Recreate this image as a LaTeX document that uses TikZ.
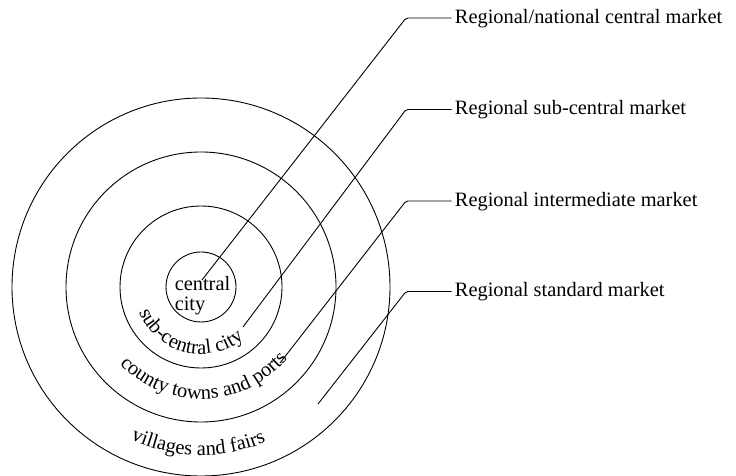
\documentclass[tikz,border=0pt]{standalone}
\usepackage{fontspec}
\setmainfont{Liberation Serif}
\usetikzlibrary{decorations.text}
\newcommand{\ringfont}{\fontsize{20.4}{20}\selectfont}
\begin{document}
\begin{tikzpicture}[x=1pt,y=1pt,line width=0.9pt,
  market/.style={anchor=west,inner sep=3pt,text height=11pt,text depth=0pt,font=\ringfont},
  ringtext/.style={decorate,decoration={text along path,text align=center,text={#1}}}]
\useasboundingbox (0,0) rectangle (736,476);
\coordinate (c) at (201,189);
\draw (c) circle (35);
\draw (c) circle (81);
\draw (c) circle (135);
\draw (c) circle (189);

\node[font=\ringfont,align=left,inner sep=0pt] (city) at (202.5,180.5) {central\\city};
\path[ringtext={|\ringfont|sub-central city}] ([shift={(180:67)}]c) arc (180:332:67);
\path[ringtext={|\ringfont|county towns and ports}] ([shift={(182:112)}]c) arc (182:362:112);
\path[ringtext={|\ringfont|villages and fairs}] ([shift={(209:168)}]c) arc (209:329:168);

\node[market] (m1) at (451.5,458) {Regional/national central market};
\node[market] (m2) at (451.5,366.5) {Regional sub-central market};
\node[market] (m3) at (451.5,275) {Regional intermediate market};
\node[market] (m4) at (451.5,184.5) {Regional standard market};

\coordinate (p1) at (202,196);
\coordinate (p2) at (243,149);
\coordinate (p3) at (280,113);
\coordinate (p4) at (318,72);

\draw[rounded corners=2pt] (p1) -- ([xshift=-45.5pt]m1.west) -- (m1.west);
\draw[rounded corners=2pt] (p2) -- ([xshift=-45.5pt]m2.west) -- (m2.west);
\draw[rounded corners=2pt] (p3) -- ([xshift=-45.5pt]m3.west) -- (m3.west);
\draw[rounded corners=2pt] (p4) -- ([xshift=-45.5pt]m4.west) -- (m4.west);
\end{tikzpicture}
\end{document}
